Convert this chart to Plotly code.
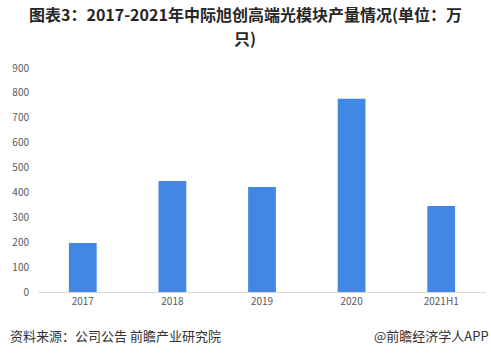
import plotly.graph_objects as go

categories = ["2017", "2018", "2019", "2020", "2021H1"]
values = [197, 446, 422, 776, 346]
y_ticks = [0, 100, 200, 300, 400, 500, 600, 700, 800, 900]

title_line1 = "<b>图表3：2017-2021年中际旭创高端光模块产量情况(单位：万</b>"
title_line2 = "<b>只)</b>"
source_left = "资料来源：公司公告 前瞻产业研究院"
source_right = "@前瞻经济学人APP"

font_family = "Noto Sans CJK SC, Noto Sans, sans-serif"

W, H = 491, 356
ML, MR, MT, MB = 38, 5, 68, 64
plot_h = H - MT - MB
plot_w = W - ML - MR


def py(px):
    return (H - MB - px) / plot_h


def pxx(px):
    return (px - ML) / plot_w


fig = go.Figure()
fig.add_trace(go.Bar(
    x=categories, y=values,
    marker=dict(color="#4287E3", line=dict(width=0)),
))

fig.update_layout(
    width=W, height=H,
    margin=dict(l=ML, r=MR, t=MT, b=MB),
    paper_bgcolor="white", plot_bgcolor="white",
    bargap=0.69,
    showlegend=False,
    font=dict(family=font_family, color="#595959", size=10),
    xaxis=dict(
        showline=True, linecolor="#D9D9D9", linewidth=1,
        ticks="", showgrid=False,
        tickfont=dict(size=10, color="#595959"),
    ),
    yaxis=dict(
        range=[0, 900],
        tickvals=y_ticks,
        showgrid=False, zeroline=False, showline=False,
        ticks="", ticklabelstandoff=8,
        tickfont=dict(size=10, color="#595959"),
    ),
    annotations=[
        dict(text=title_line1, x=pxx(245), xref="paper", xanchor="center",
             y=py(13.5), yref="paper", yanchor="middle", showarrow=False,
             font=dict(size=16, color="#262626", family=font_family)),
        dict(text=title_line2, x=pxx(245), xref="paper", xanchor="center",
             y=py(37.5), yref="paper", yanchor="middle", showarrow=False,
             font=dict(size=16, color="#262626", family=font_family)),
        dict(text=source_left, x=pxx(8), xref="paper", xanchor="left",
             y=py(335), yref="paper", yanchor="middle", showarrow=False,
             font=dict(size=13, color="#333333", family=font_family)),
        dict(text=source_right, x=pxx(491), xref="paper", xanchor="right",
             y=py(335), yref="paper", yanchor="middle", showarrow=False,
             font=dict(size=13, color="#333333", family=font_family)),
    ],
)

fig.write_html("out.html")
